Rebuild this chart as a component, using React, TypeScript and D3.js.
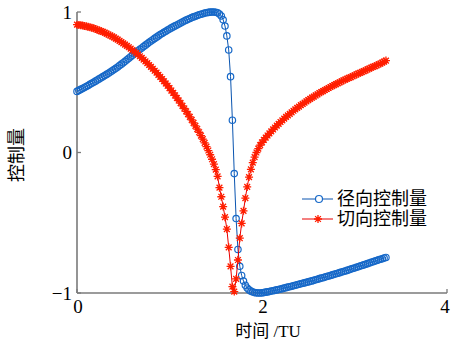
import React from 'react';
import * as d3 from 'd3';

// time grid (TU)
const times = [
  0.00, 0.02, 0.04, 0.06, 0.08, 0.10, 0.12, 0.14, 0.16, 0.18,
  0.20, 0.22, 0.24, 0.26, 0.28, 0.30, 0.32, 0.34, 0.36, 0.38,
  0.40, 0.42, 0.44, 0.46, 0.48, 0.50, 0.52, 0.54, 0.56, 0.58,
  0.60, 0.62, 0.64, 0.66, 0.68, 0.70, 0.72, 0.74, 0.76, 0.78,
  0.80, 0.82, 0.84, 0.86, 0.88, 0.90, 0.92, 0.94, 0.96, 0.98,
  1.00, 1.02, 1.04, 1.06, 1.08, 1.10, 1.12, 1.14, 1.16, 1.18,
  1.20, 1.22, 1.24, 1.26, 1.28, 1.30, 1.32, 1.34, 1.36, 1.38,
  1.40, 1.42, 1.44, 1.46, 1.48, 1.50, 1.52, 1.54, 1.56, 1.58,
  1.60, 1.62, 1.64, 1.66, 1.68, 1.70, 1.72, 1.74, 1.76, 1.78,
  1.80, 1.82, 1.84, 1.86, 1.88, 1.90, 1.92, 1.94, 1.96, 1.98,
  2.00, 2.02, 2.04, 2.06, 2.08, 2.10, 2.12, 2.14, 2.16, 2.18,
  2.20, 2.22, 2.24, 2.26, 2.28, 2.30, 2.32, 2.34, 2.36, 2.38,
  2.40, 2.42, 2.44, 2.46, 2.48, 2.50, 2.52, 2.54, 2.56, 2.58,
  2.60, 2.62, 2.64, 2.66, 2.68, 2.70, 2.72, 2.74, 2.76, 2.78,
  2.80, 2.82, 2.84, 2.86, 2.88, 2.90, 2.92, 2.94, 2.96, 2.98,
  3.00, 3.02, 3.04, 3.06, 3.08, 3.10, 3.12, 3.14, 3.16, 3.18,
  3.20, 3.22, 3.24, 3.26, 3.28, 3.30, 3.32, 3.34,
];

// 径向控制量
const radial = [
  0.435, 0.442, 0.449, 0.456, 0.463, 0.470, 0.477, 0.485, 0.492, 0.500,
  0.508, 0.516, 0.524, 0.532, 0.540, 0.548, 0.556, 0.564, 0.573, 0.581,
  0.590, 0.599, 0.609, 0.619, 0.629, 0.639, 0.649, 0.660, 0.671, 0.682,
  0.693, 0.704, 0.714, 0.724, 0.734, 0.744, 0.754, 0.764, 0.774, 0.784,
  0.794, 0.803, 0.812, 0.821, 0.830, 0.839, 0.847, 0.855, 0.863, 0.871,
  0.879, 0.887, 0.894, 0.901, 0.908, 0.915, 0.922, 0.929, 0.936, 0.942,
  0.948, 0.954, 0.960, 0.965, 0.970, 0.975, 0.980, 0.984, 0.988, 0.992,
  0.995, 0.997, 0.999, 1.000, 1.000, 0.998, 0.994, 0.986, 0.972, 0.945,
  0.900, 0.830, 0.730, 0.540, 0.230, -0.150, -0.470, -0.690, -0.810, -0.875,
  -0.915, -0.945, -0.965, -0.978, -0.987, -0.993, -0.997, -0.999, -1.000, -1.000,
  -0.999, -0.997, -0.994, -0.992, -0.989, -0.986, -0.984, -0.981, -0.978, -0.975,
  -0.972, -0.969, -0.965, -0.962, -0.958, -0.955, -0.952, -0.948, -0.945, -0.941,
  -0.938, -0.934, -0.931, -0.928, -0.924, -0.921, -0.917, -0.914, -0.910, -0.906,
  -0.902, -0.898, -0.894, -0.891, -0.887, -0.883, -0.879, -0.875, -0.871, -0.867,
  -0.863, -0.859, -0.855, -0.851, -0.847, -0.843, -0.839, -0.835, -0.830, -0.826,
  -0.822, -0.817, -0.813, -0.808, -0.804, -0.800, -0.795, -0.791, -0.786, -0.782,
  -0.778, -0.773, -0.769, -0.764, -0.760, -0.756, -0.751, -0.747,
];

// 切向控制量
const tangential = [
  0.910, 0.908, 0.906, 0.904, 0.901, 0.898, 0.895, 0.891, 0.888, 0.884,
  0.879, 0.874, 0.869, 0.864, 0.858, 0.853, 0.846, 0.840, 0.833, 0.826,
  0.819, 0.811, 0.803, 0.795, 0.786, 0.777, 0.768, 0.759, 0.749, 0.739,
  0.729, 0.719, 0.708, 0.697, 0.685, 0.673, 0.661, 0.649, 0.636, 0.623,
  0.610, 0.596, 0.582, 0.568, 0.553, 0.538, 0.523, 0.507, 0.491, 0.475,
  0.458, 0.441, 0.424, 0.406, 0.388, 0.370, 0.351, 0.332, 0.313, 0.293,
  0.273, 0.253, 0.232, 0.211, 0.189, 0.167, 0.144, 0.120, 0.095, 0.069,
  0.042, 0.014, -0.016, -0.048, -0.083, -0.122, -0.170, -0.250, -0.315, -0.385,
  -0.460, -0.545, -0.675, -0.810, -0.955, -0.990, -0.900, -0.765, -0.610, -0.505,
  -0.415, -0.325, -0.245, -0.175, -0.120, -0.072, -0.033, 0.000, 0.028, 0.052,
  0.072, 0.090, 0.106, 0.121, 0.136, 0.150, 0.164, 0.178, 0.191, 0.204,
  0.217, 0.229, 0.241, 0.253, 0.264, 0.275, 0.286, 0.297, 0.307, 0.317,
  0.327, 0.337, 0.346, 0.355, 0.364, 0.373, 0.382, 0.390, 0.398, 0.406,
  0.414, 0.422, 0.430, 0.437, 0.445, 0.452, 0.459, 0.466, 0.473, 0.480,
  0.487, 0.493, 0.500, 0.506, 0.513, 0.519, 0.525, 0.531, 0.537, 0.543,
  0.549, 0.555, 0.561, 0.567, 0.573, 0.579, 0.585, 0.591, 0.597, 0.603,
  0.609, 0.615, 0.621, 0.627, 0.633, 0.640, 0.647, 0.654,
];

const xTicks = [0, 2, 4];
const yTicks = [-1, 0, 1];
const seriesNames = ['径向控制量', '切向控制量'];

const W = 451;
const H = 343;
const BLUE_LINE = '#0a55b0';
const BLUE_MARK = '#1668c8';
const RED_LINE = '#e80000';
const RED_MARK = '#ff1e00';
const AXIS = '#7a7a7a';
const SERIF = "'Liberation Serif', 'Times New Roman', serif";
const CJK = "'Liberation Serif', 'Noto Sans CJK SC', serif";

const x = d3.scaleLinear().domain([0, 4]).range([77, 447]);
const y = d3.scaleLinear().domain([-1, 1]).range([293, 12]);

const toPts = (vals: number[]) => times.map((t, i) => [t, vals[i]] as [number, number]);
const line = d3.line<[number, number]>().x(d => x(d[0])).y(d => y(d[1]));

const starPath = (r: number) => {
  const a = r * 0.72;
  return `M${-r},0L${r},0M0,${-r}L0,${r}M${-a},${-a}L${a},${a}M${-a},${a}L${a},${-a}`;
};

const fmt = (v: number) => (v < 0 ? '\u2212' + Math.abs(v) : String(v));

const App = () => {
  const radialPts = toPts(radial);
  const tangPts = toPts(tangential);
  const star = starPath(4);

  return (
    <svg width={W} height={H} style={{ position: 'absolute', left: 0, top: 0, background: '#fff' }}>
      {/* axes */}
      <line x1={x(0)} x2={x(0)} y1={y(1)} y2={y(-1)} stroke={AXIS} strokeWidth={1.6} />
      <line x1={x(0)} x2={x(4)} y1={y(-1)} y2={y(-1)} stroke={AXIS} strokeWidth={1.6} />
      {yTicks.map(v => (
        <g key={'y' + v}>
          <line x1={x(0)} x2={x(0) + 4} y1={y(v)} y2={y(v)} stroke={AXIS} strokeWidth={1.3} />
          <text x={x(0) - 5} y={y(v)} dy="0.35em" textAnchor="end" fontFamily={SERIF} fontSize={19}>
            {fmt(v)}
          </text>
        </g>
      ))}
      {xTicks.map(v => (
        <g key={'x' + v}>
          <line x1={x(v)} x2={x(v)} y1={y(-1)} y2={y(-1) - 4} stroke={AXIS} strokeWidth={1.3} />
          <text x={Math.min(x(v) + 1, W - 6)} y={y(-1) + 20} textAnchor="middle" fontFamily={SERIF} fontSize={19}>
            {fmt(v)}
          </text>
        </g>
      ))}

      {/* 径向 */}
      <path d={line(radialPts) || ''} fill="none" stroke={BLUE_LINE} strokeWidth={1} />
      {radialPts.map((p, i) => (
        <circle key={'r' + i} cx={x(p[0])} cy={y(p[1])} r={3.2} fill="none" stroke={BLUE_MARK} strokeWidth={1.2} />
      ))}

      {/* 切向 */}
      <path d={line(tangPts) || ''} fill="none" stroke={RED_LINE} strokeWidth={1} />
      {tangPts.map((p, i) => (
        <path key={'t' + i} d={star} transform={`translate(${x(p[0])},${y(p[1])})`}
          fill="none" stroke={RED_MARK} strokeWidth={1.3} />
      ))}

      {/* legend */}
      <g>
        <line x1={302} x2={333} y1={199} y2={199} stroke={BLUE_LINE} strokeWidth={1} />
        <circle cx={319} cy={199} r={3.5} fill="#fff" stroke={BLUE_MARK} strokeWidth={1.2} />
        <text x={337} y={199} dy="0.36em" fontFamily={CJK} fontSize={18}>{seriesNames[0]}</text>
        <line x1={302} x2={333} y1={219} y2={219} stroke={RED_LINE} strokeWidth={1} />
        <path d={star} transform="translate(318,219)" fill="none" stroke={RED_MARK} strokeWidth={1.3} />
        <text x={337} y={219} dy="0.36em" fontFamily={CJK} fontSize={18}>{seriesNames[1]}</text>
      </g>

      {/* axis titles */}
      <text x={268} y={337} textAnchor="middle" fontFamily={CJK} fontSize={17}>时间 /TU</text>
      <text transform="translate(23,155) rotate(-90)" textAnchor="middle" fontFamily={CJK} fontSize={18}>控制量</text>
    </svg>
  );
};

export default App;
